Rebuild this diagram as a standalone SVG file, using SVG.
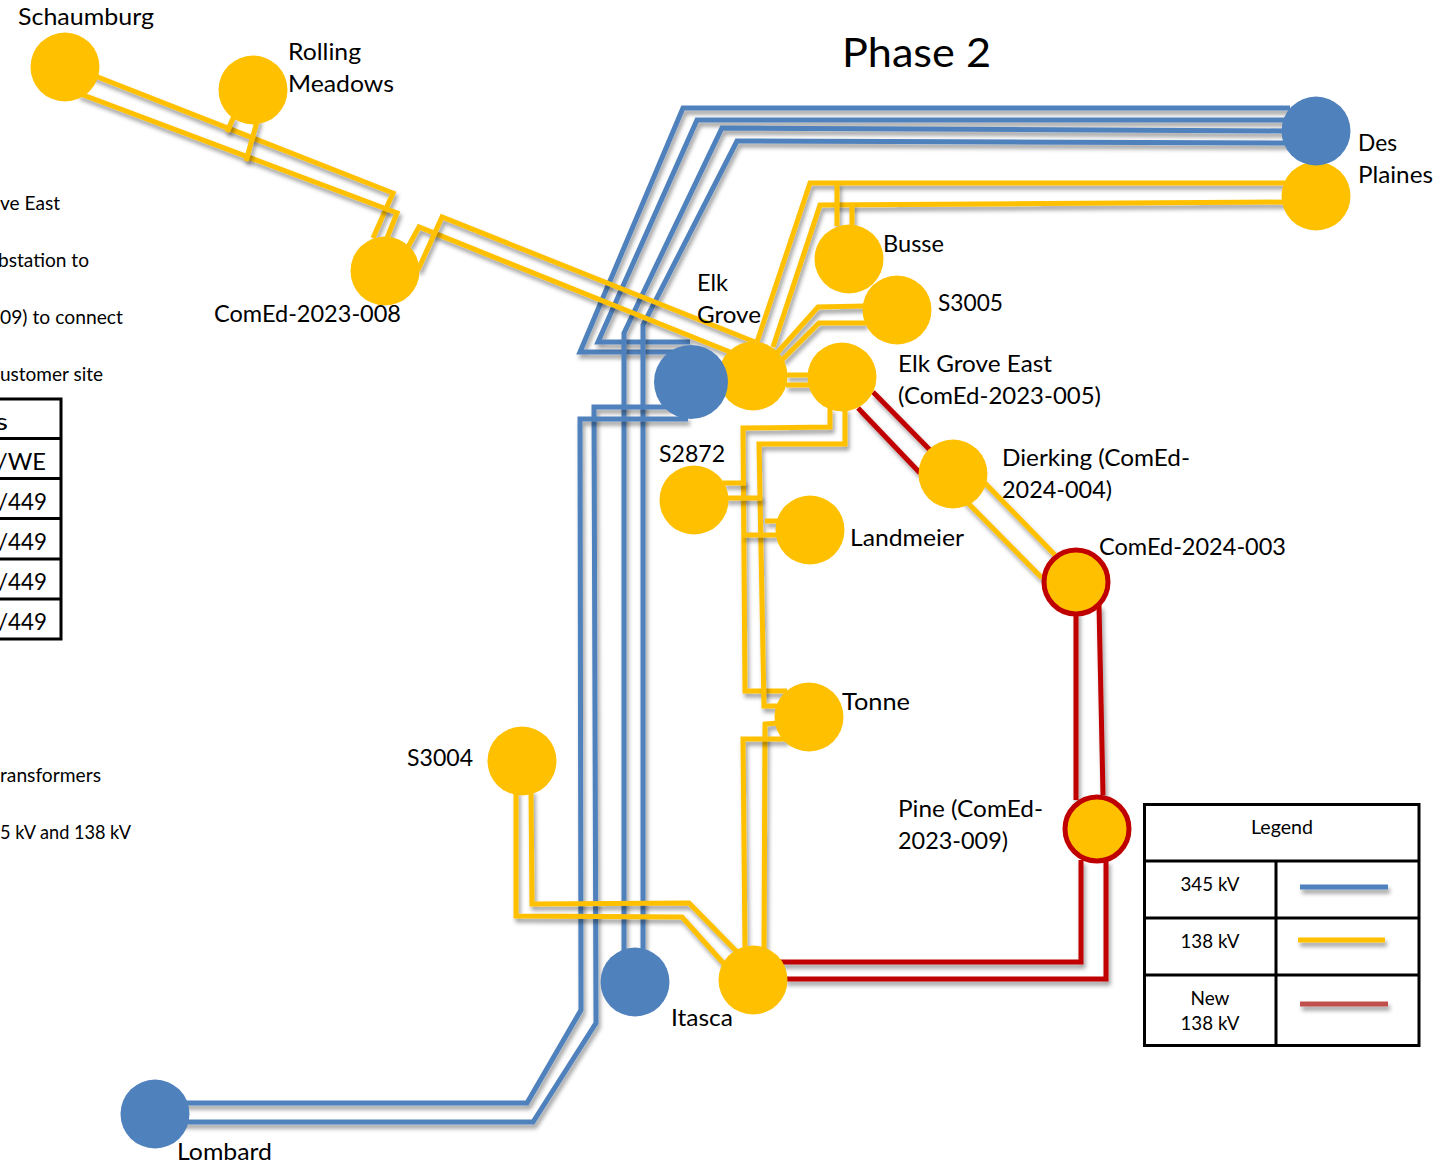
<svg xmlns="http://www.w3.org/2000/svg" width="1433" height="1163" viewBox="0 0 1433 1163">
<defs>
<filter id="sh" filterUnits="userSpaceOnUse" x="0" y="0" width="1433" height="1163">
<feDropShadow dx="2" dy="4" stdDeviation="2.200" flood-color="#000" flood-opacity="0.38"/>
</filter>
</defs>
<style>
text{font-family:"Lato","Liberation Sans",sans-serif;fill:#000;font-size:24px}
.s{font-size:19px}
.l{font-size:18.5px}
.lg{text-anchor:middle}
polyline{fill:none;stroke-width:5;stroke-linejoin:miter;stroke-miterlimit:2.500;filter:url(#sh)}
.b{stroke:#4F81BD}
.y{stroke:#FFC000}
.r{stroke:#C00000}
.n{stroke:#C0504D}
.gb{fill:#4F81BD}
.gy{fill:#FFC000}
.ring{fill:#FFC000;stroke:#C00000;stroke-width:5}
.tb{stroke:#000;stroke-width:3;fill:none}
</style>
<rect width="1433" height="1163" fill="#fff"/>
<g id="connectors">
<polyline class="b" points="690,352 580,352 683,108 1290,108"/>
<polyline class="b" points="690,342 598,342 697,120 1290,120"/>
<polyline class="b" points="624,955 624,333 722,128 1290,131"/>
<polyline class="b" points="643,955 643,325 737,141 1290,143"/>
<polyline class="b" points="670,407 594,407 596,1023 533,1122 160,1122"/>
<polyline class="b" points="688,419 580,419 581,1010 527,1103 155,1103"/>
<polyline class="y" points="85,72 393,193 373,238"/>
<polyline class="y" points="78,93 397,213 387,238"/>
<polyline class="y" points="234,116 227,132"/>
<polyline class="y" points="258,118 246,161"/>
<polyline class="y" points="408,247 419,227 730,352"/>
<polyline class="y" points="418,270 442,217 755,342"/>
<polyline class="y" points="757,342 810,183 1290,183"/>
<polyline class="y" points="773,347 820,205 1290,202"/>
<polyline class="y" points="837,183 837,226"/>
<polyline class="y" points="852,204 852,226"/>
<polyline class="y" points="777,353 818,307 866,306"/>
<polyline class="y" points="782,360 819,323 866,323"/>
<polyline class="y" points="786,375 812,375"/>
<polyline class="y" points="786,385 812,385"/>
<polyline class="y" points="830,408 830,427 743,428 745,691 787,691"/>
<polyline class="y" points="845,408 845,444 759,444 764,706 778,706"/>
<polyline class="y" points="723,483 746,483"/>
<polyline class="y" points="725,498 762,498"/>
<polyline class="y" points="765,521 780,521"/>
<polyline class="y" points="743,535 778,535"/>
<polyline class="y" points="778,723 765,724 764,950"/>
<polyline class="y" points="787,739 743,739 745,950"/>
<polyline class="y" points="516,790 516,916 682,917 725,965"/>
<polyline class="y" points="531,790 532,904 689,903 740,955"/>
<polyline class="y" points="980,478 1055,555"/>
<polyline class="y" points="960,495 1042,578"/>
<polyline class="r" points="873,392 930,450"/>
<polyline class="r" points="858,408 920,473"/>
<polyline class="r" points="1076,610 1076,800"/>
<polyline class="r" points="1099,605 1103,795"/>
<polyline class="r" points="1081,860 1081,962 780,962"/>
<polyline class="r" points="1106,860 1106,979 785,979"/>
</g>
<g id="title"><text x="842" y="67" style="font-size:41px" textLength="149" lengthAdjust="spacingAndGlyphs">Phase 2</text></g>
<g id="schaumburg"><circle class="gy" cx="65" cy="67" r="34.5"/><text x="18" y="25" textLength="136" lengthAdjust="spacingAndGlyphs">Schaumburg</text></g>
<g id="rolling-meadows"><circle class="gy" cx="253" cy="90" r="34.5"/><text x="288" y="60" textLength="73" lengthAdjust="spacingAndGlyphs">Rolling</text><text x="288" y="92" textLength="106" lengthAdjust="spacingAndGlyphs">Meadows</text></g>
<g id="comed-2023-008"><circle class="gy" cx="385" cy="271" r="34.5"/><text x="214" y="322" textLength="187" lengthAdjust="spacingAndGlyphs">ComEd-2023-008</text></g>
<g id="des-plaines-138"><circle class="gy" cx="1316" cy="196" r="34.5"/></g>
<g id="des-plaines-345"><circle class="gb" cx="1316" cy="131" r="34.5"/><text x="1358" y="151" textLength="39" lengthAdjust="spacingAndGlyphs">Des</text><text x="1358" y="183" textLength="75" lengthAdjust="spacingAndGlyphs">Plaines</text></g>
<g id="busse"><circle class="gy" cx="849" cy="259" r="34.5"/><text x="883" y="252" textLength="61" lengthAdjust="spacingAndGlyphs">Busse</text></g>
<g id="s3005"><circle class="gy" cx="897" cy="310" r="34.5"/><text x="938" y="311" textLength="65" lengthAdjust="spacingAndGlyphs">S3005</text></g>
<g id="elk-grove-138"><circle class="gy" cx="753" cy="376" r="34.5"/></g>
<g id="elk-grove-345"><circle class="gb" cx="691" cy="382" r="37"/><text x="697" y="291" textLength="31" lengthAdjust="spacingAndGlyphs">Elk</text><text x="697" y="323" textLength="64" lengthAdjust="spacingAndGlyphs">Grove</text></g>
<g id="elk-grove-east"><circle class="gy" cx="842" cy="377" r="34.5"/><text x="898" y="372" textLength="154" lengthAdjust="spacingAndGlyphs">Elk Grove East</text><text x="898" y="404" textLength="203" lengthAdjust="spacingAndGlyphs">(ComEd-2023-005)</text></g>
<g id="dierking"><circle class="gy" cx="953" cy="474" r="34.5"/><text x="1002" y="466" textLength="188" lengthAdjust="spacingAndGlyphs">Dierking (ComEd-</text><text x="1002" y="498" textLength="110" lengthAdjust="spacingAndGlyphs">2024-004)</text></g>
<g id="comed-2024-003"><circle class="ring" cx="1076" cy="582" r="32"/><text x="1099" y="555" textLength="187" lengthAdjust="spacingAndGlyphs">ComEd-2024-003</text></g>
<g id="pine"><circle class="ring" cx="1097" cy="829" r="32"/><text x="898" y="817" textLength="145" lengthAdjust="spacingAndGlyphs">Pine (ComEd-</text><text x="898" y="849" textLength="110" lengthAdjust="spacingAndGlyphs">2023-009)</text></g>
<g id="s2872"><circle class="gy" cx="694" cy="500" r="34.5"/><text x="659" y="462" textLength="66" lengthAdjust="spacingAndGlyphs">S2872</text></g>
<g id="landmeier"><circle class="gy" cx="810" cy="530" r="34.5"/><text x="850" y="546" textLength="114" lengthAdjust="spacingAndGlyphs">Landmeier</text></g>
<g id="tonne"><circle class="gy" cx="809" cy="717" r="34.5"/><text x="842" y="710" textLength="68" lengthAdjust="spacingAndGlyphs">Tonne</text></g>
<g id="s3004"><circle class="gy" cx="522" cy="761" r="34.5"/><text x="407" y="766" textLength="66" lengthAdjust="spacingAndGlyphs">S3004</text></g>
<g id="itasca-138"><circle class="gy" cx="753" cy="980" r="34.5"/></g>
<g id="itasca-345"><circle class="gb" cx="635" cy="982" r="34.5"/><text x="671" y="1026" textLength="62" lengthAdjust="spacingAndGlyphs">Itasca</text></g>
<g id="lombard"><circle class="gb" cx="155" cy="1114" r="34.5"/><text x="177" y="1160" textLength="95" lengthAdjust="spacingAndGlyphs">Lombard</text></g>
<g id="left-notes">
<text class="s" x="0" y="210" textLength="60" lengthAdjust="spacingAndGlyphs">ve East</text>
<text class="s" x="-2" y="267" textLength="91" lengthAdjust="spacingAndGlyphs">bstation to</text>
<text class="s" x="0" y="324" textLength="123" lengthAdjust="spacingAndGlyphs">09) to connect</text>
<text class="s" x="0" y="381" textLength="103" lengthAdjust="spacingAndGlyphs">ustomer site</text>
<text class="s" x="0" y="782" textLength="101" lengthAdjust="spacingAndGlyphs">ransformers</text>
<text class="s" x="0" y="839" textLength="131" lengthAdjust="spacingAndGlyphs">5 kV and 138 kV</text>
</g>
<g id="left-table">
<path class="tb" d="M-5,399H61V639H-5M-5,438.500H61M-5,478.500H61M-5,518.500H61M-5,559H61M-5,599H61"/>
<text x="-5" y="430" textLength="13" lengthAdjust="spacingAndGlyphs">s</text>
<text x="-3" y="470" textLength="49" lengthAdjust="spacingAndGlyphs">/WE</text>
<text x="-2" y="510" textLength="49" lengthAdjust="spacingAndGlyphs">/449</text>
<text x="-2" y="550" textLength="49" lengthAdjust="spacingAndGlyphs">/449</text>
<text x="-2" y="590" textLength="49" lengthAdjust="spacingAndGlyphs">/449</text>
<text x="-2" y="630" textLength="49" lengthAdjust="spacingAndGlyphs">/449</text>
</g>
<g id="legend">
<path class="tb" d="M1144.500,804.500H1419V1045.500H1144.500ZM1144.500,861H1419M1144.500,918H1419M1144.500,975H1419M1276,861V1045.500"/>
<text class="l lg" x="1282" y="834" textLength="62" lengthAdjust="spacingAndGlyphs">Legend</text>
<text class="l lg" x="1210" y="891" textLength="59" lengthAdjust="spacingAndGlyphs">345 kV</text>
<text class="l lg" x="1210" y="948" textLength="59" lengthAdjust="spacingAndGlyphs">138 kV</text>
<text class="l lg" x="1210" y="1005" textLength="39" lengthAdjust="spacingAndGlyphs">New</text>
<text class="l lg" x="1210" y="1030" textLength="59" lengthAdjust="spacingAndGlyphs">138 kV</text>
<polyline class="b" points="1300,887 1388,887"/>
<polyline class="y" points="1298,940 1385,940"/>
<polyline class="n" points="1300,1004 1388,1004"/>
</g>
</svg>
